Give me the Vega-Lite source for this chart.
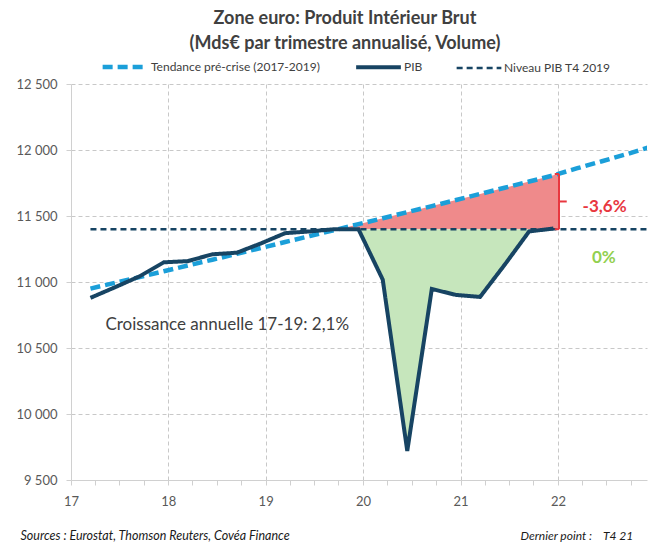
{
  "$schema": "https://vega.github.io/schema/vega-lite/v6.json",
  "width": 576,
  "height": 396,
  "autosize": {"type": "none"},
  "padding": {"left": 71, "top": 84, "right": 1, "bottom": 64},
  "background": "white",
  "title": {
    "text": ["Zone euro: Produit Intérieur Brut", "(Mds€ par trimestre annualisé, Volume)"],
    "font": "Lato", "fontSize": 18, "fontWeight": "bold", "color": "#404040",
    "anchor": "middle", "frame": "group", "dx": -14, "lineHeight": 25, "offset": -11
  },
  "config": {
    "view": {"stroke": null},
    "font": "Lato",
    "legend": {
      "orient": "none", "legendX": 29, "legendY": -42, "direction": "horizontal",
      "symbolType": "stroke", "symbolSize": 2000, "labelFont": "Lato", "labelFontSize": 12,
      "labelColor": "#404040", "columnPadding": 28, "labelOffset": 1, "labelLimit": 400
    }
  },
  "datasets": {
    "lines": [
      {"serie": "Tendance pré-crise (2017-2019)", "date": "2017-03-15", "value": 10950},
      {"serie": "Tendance pré-crise (2017-2019)", "date": "2017-06-15", "value": 10994},
      {"serie": "Tendance pré-crise (2017-2019)", "date": "2017-09-15", "value": 11037},
      {"serie": "Tendance pré-crise (2017-2019)", "date": "2017-12-15", "value": 11081},
      {"serie": "Tendance pré-crise (2017-2019)", "date": "2018-03-15", "value": 11125},
      {"serie": "Tendance pré-crise (2017-2019)", "date": "2018-06-15", "value": 11169},
      {"serie": "Tendance pré-crise (2017-2019)", "date": "2018-09-15", "value": 11213},
      {"serie": "Tendance pré-crise (2017-2019)", "date": "2018-12-15", "value": 11258},
      {"serie": "Tendance pré-crise (2017-2019)", "date": "2019-03-15", "value": 11303},
      {"serie": "Tendance pré-crise (2017-2019)", "date": "2019-06-15", "value": 11348},
      {"serie": "Tendance pré-crise (2017-2019)", "date": "2019-09-15", "value": 11393},
      {"serie": "Tendance pré-crise (2017-2019)", "date": "2019-12-15", "value": 11438},
      {"serie": "Tendance pré-crise (2017-2019)", "date": "2020-03-15", "value": 11483},
      {"serie": "Tendance pré-crise (2017-2019)", "date": "2020-06-15", "value": 11529},
      {"serie": "Tendance pré-crise (2017-2019)", "date": "2020-09-15", "value": 11575},
      {"serie": "Tendance pré-crise (2017-2019)", "date": "2020-12-15", "value": 11621},
      {"serie": "Tendance pré-crise (2017-2019)", "date": "2021-03-15", "value": 11667},
      {"serie": "Tendance pré-crise (2017-2019)", "date": "2021-06-15", "value": 11714},
      {"serie": "Tendance pré-crise (2017-2019)", "date": "2021-09-15", "value": 11761},
      {"serie": "Tendance pré-crise (2017-2019)", "date": "2021-12-15", "value": 11808},
      {"serie": "Tendance pré-crise (2017-2019)", "date": "2022-03-15", "value": 11862},
      {"serie": "Tendance pré-crise (2017-2019)", "date": "2022-06-15", "value": 11915},
      {"serie": "Tendance pré-crise (2017-2019)", "date": "2022-09-15", "value": 11968},
      {"serie": "Tendance pré-crise (2017-2019)", "date": "2022-12-15", "value": 12025},
      {"serie": "Niveau PIB T4 2019", "date": "2017-03-15", "value": 11400},
      {"serie": "Niveau PIB T4 2019", "date": "2022-12-15", "value": 11400},
      {"serie": "PIB", "date": "2017-03-15", "value": 10880},
      {"serie": "PIB", "date": "2017-06-15", "value": 10960},
      {"serie": "PIB", "date": "2017-09-15", "value": 11043},
      {"serie": "PIB", "date": "2017-12-15", "value": 11149},
      {"serie": "PIB", "date": "2018-03-15", "value": 11158},
      {"serie": "PIB", "date": "2018-06-15", "value": 11210},
      {"serie": "PIB", "date": "2018-09-15", "value": 11222},
      {"serie": "PIB", "date": "2018-12-15", "value": 11293},
      {"serie": "PIB", "date": "2019-03-15", "value": 11370},
      {"serie": "PIB", "date": "2019-06-15", "value": 11383},
      {"serie": "PIB", "date": "2019-09-15", "value": 11400},
      {"serie": "PIB", "date": "2019-12-15", "value": 11400},
      {"serie": "PIB", "date": "2020-03-15", "value": 11018},
      {"serie": "PIB", "date": "2020-06-15", "value": 9720},
      {"serie": "PIB", "date": "2020-09-15", "value": 10947},
      {"serie": "PIB", "date": "2020-12-15", "value": 10902},
      {"serie": "PIB", "date": "2021-03-15", "value": 10887},
      {"serie": "PIB", "date": "2021-06-15", "value": 11130},
      {"serie": "PIB", "date": "2021-09-15", "value": 11383},
      {"serie": "PIB", "date": "2021-12-15", "value": 11405}
    ],
    "red": [
      {"date": "2019-10-01", "value": 11400, "value2": 11400},
      {"date": "2019-12-15", "value": 11438, "value2": 11400},
      {"date": "2020-03-15", "value": 11483, "value2": 11400},
      {"date": "2020-06-15", "value": 11529, "value2": 11400},
      {"date": "2020-09-15", "value": 11575, "value2": 11400},
      {"date": "2020-12-15", "value": 11621, "value2": 11400},
      {"date": "2021-03-15", "value": 11667, "value2": 11400},
      {"date": "2021-06-15", "value": 11714, "value2": 11400},
      {"date": "2021-09-15", "value": 11761, "value2": 11400},
      {"date": "2021-12-15", "value": 11808, "value2": 11400},
      {"date": "2022-01-05", "value": 11818, "value2": 11400}
    ],
    "green": [
      {"date": "2019-12-15", "value": 11400, "value2": 11400},
      {"date": "2020-03-15", "value": 11018, "value2": 11400},
      {"date": "2020-06-15", "value": 9720, "value2": 11400},
      {"date": "2020-09-15", "value": 10947, "value2": 11400},
      {"date": "2020-12-15", "value": 10902, "value2": 11400},
      {"date": "2021-03-15", "value": 10887, "value2": 11400},
      {"date": "2021-06-15", "value": 11130, "value2": 11400},
      {"date": "2021-09-15", "value": 11383, "value2": 11400},
      {"date": "2021-12-15", "value": 11405, "value2": 11400}
    ],
    "bracket": [
      {"date": "2022-01-05", "date2": "2022-01-05", "value": 11400, "value2": 11818},
      {"date": "2021-12-20", "date2": "2022-01-05", "value": 11818, "value2": 11818},
      {"date": "2021-12-20", "date2": "2022-01-05", "value": 11400, "value2": 11400},
      {"date": "2022-01-05", "date2": "2022-02-03", "value": 11610, "value2": 11610}
    ]
  },
  "encoding": {
    "x": {
      "field": "date", "type": "temporal",
      "scale": {"type": "utc", "domain": [{"year": 2017, "month": 1, "date": 1, "utc": true}, {"year": 2022, "month": 12, "date": 1, "utc": true}]},
      "axis": {
        "tickCount": {"interval": "month", "step": 3},
        "labelExpr": "utcmonth(datum.value) == 0 ? utcFormat(datum.value, '%y') : ''",
        "grid": true, "gridDash": [4, 3], "gridColor": "#c8c8c8",
        "gridOpacity": {"condition": {"test": "utcmonth(datum.value) == 0 && utcyear(datum.value) > 2017", "value": 1}, "value": 0},
        "tickColor": "#d0d0d0", "tickSize": 5, "domainColor": "#d0d0d0",
        "labelFont": "Lato", "labelFontSize": 13, "labelColor": "#595959", "labelPadding": 10, "labelDx": 3,
        "labelOverlap": false, "labelFlush": false, "labelBound": false,
        "title": "Sources : Eurostat, Thomson Reuters, Covéa Finance",
        "titleFont": "Lato", "titleFontSize": 12.5, "titleFontStyle": "italic", "titleFontWeight": "normal", "titleColor": "#1a1a1a",
        "titleAnchor": "start", "titleAlign": "left", "titleX": -51, "titleY": 55, "titleBaseline": "middle"
      }
    },
    "y": {
      "field": "value", "type": "quantitative",
      "scale": {"domain": [9500, 12500], "nice": false, "zero": false},
      "axis": {
        "values": [9500, 10000, 10500, 11000, 11500, 12000, 12500],
        "labelExpr": "replace(format(datum.value, ','), ',', ' ')",
        "grid": true, "gridDash": [4, 3], "gridColor": "#c8c8c8",
        "gridOpacity": {"condition": {"test": "datum.value > 9500", "value": 1}, "value": 0},
        "tickColor": "#d0d0d0", "tickSize": 5, "domainColor": "#d0d0d0",
        "labelFont": "Lato", "labelFontSize": 13, "labelColor": "#595959", "labelPadding": 9,
        "title": "Dernier point :\u00a0\u00a0\u00a0\u00a0T4 21",
        "titleFont": "Lato", "titleFontSize": 12, "titleFontStyle": "italic", "titleFontWeight": "normal", "titleColor": "#1a1a1a",
        "titleAngle": 0, "titleX": 449, "titleY": 451, "titleAlign": "left", "titleBaseline": "middle"
      }
    }
  },
  "layer": [
    {
      "data": {"name": "red"},
      "mark": {"type": "area", "color": "#ef8a8b", "opacity": 1},
      "encoding": {"y2": {"field": "value2"}}
    },
    {
      "data": {"name": "green"},
      "mark": {"type": "area", "color": "#c6e6bc", "opacity": 1},
      "encoding": {"y2": {"field": "value2"}}
    },
    {
      "data": {"name": "lines"},
      "mark": {"type": "line", "clip": true},
      "encoding": {
        "color": {
          "field": "serie", "type": "nominal", "sort": null,
          "scale": {"domain": ["Tendance pré-crise (2017-2019)", "PIB", "Niveau PIB T4 2019"], "range": ["#1b9fd9", "#174463", "#174463"]},
          "legend": {"title": null}
        },
        "strokeDash": {
          "field": "serie", "type": "nominal", "sort": null,
          "scale": {"domain": ["Tendance pré-crise (2017-2019)", "PIB", "Niveau PIB T4 2019"], "range": [[10, 5], [1, 0], [6, 4]]},
          "legend": {"title": null}
        },
        "strokeWidth": {
          "field": "serie", "type": "nominal", "sort": null,
          "scale": {"type": "ordinal", "domain": ["Tendance pré-crise (2017-2019)", "PIB", "Niveau PIB T4 2019"], "range": [4.5, 4, 2.5]},
          "legend": {"title": null}
        }
      }
    },
    {
      "data": {"name": "bracket"},
      "mark": {"type": "rule", "color": "#e8373f", "strokeWidth": 2},
      "encoding": {"x2": {"field": "date2"}, "y2": {"field": "value2"}}
    },
    {
      "data": {"values": [{"date": "2018-08-10", "value": 10677, "label": "Croissance annuelle 17-19: 2,1%"}]},
      "mark": {"type": "text", "font": "Lato", "fontSize": 17, "color": "#404040", "align": "center", "baseline": "middle"},
      "encoding": {"text": {"field": "label"}}
    },
    {
      "data": {"values": [{"date": "2022-06-25", "value": 11570, "label": "-3,6%"}]},
      "mark": {"type": "text", "font": "Lato", "fontSize": 17, "fontWeight": "bold", "color": "#e8373f", "align": "center", "baseline": "middle"},
      "encoding": {"text": {"field": "label"}}
    },
    {
      "data": {"values": [{"date": "2022-06-22", "value": 11182, "label": "0%"}]},
      "mark": {"type": "text", "font": "Lato", "fontSize": 17, "fontWeight": "bold", "color": "#92d050", "align": "center", "baseline": "middle"},
      "encoding": {"text": {"field": "label"}}
    }
  ]
}
